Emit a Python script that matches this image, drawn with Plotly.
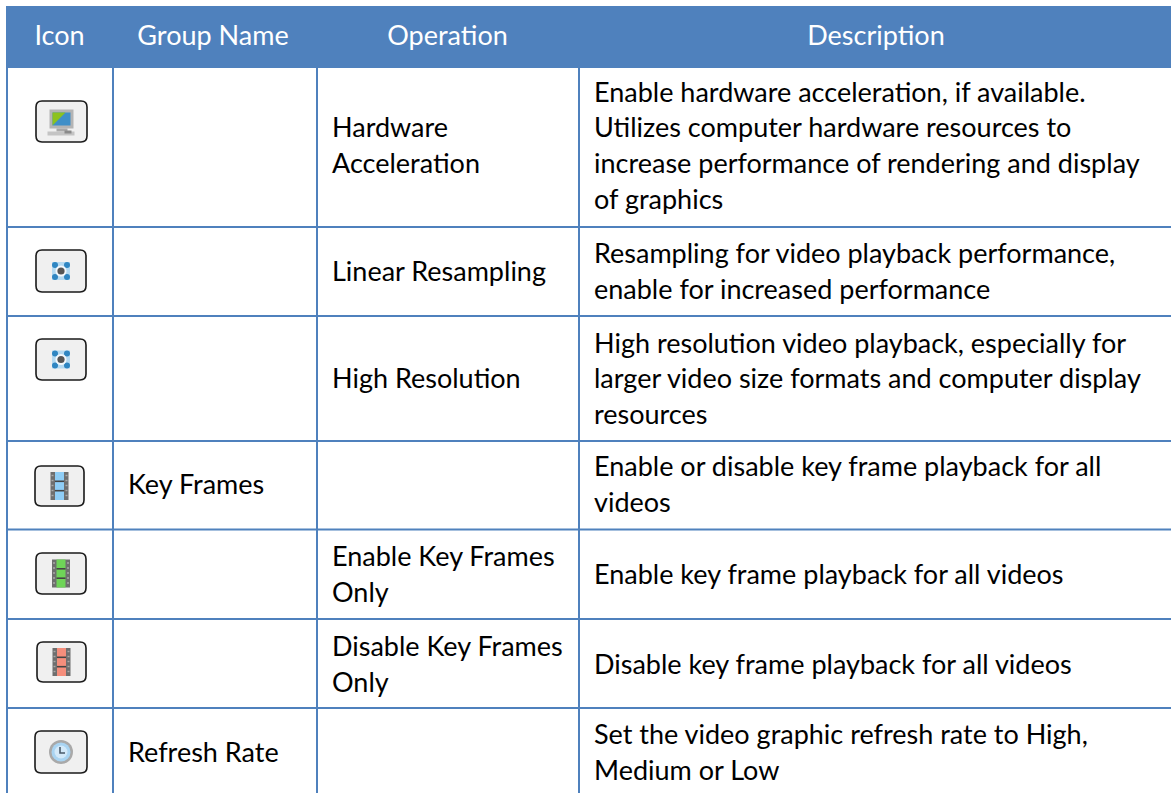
import plotly.graph_objects as go

# ---- table content ----
headers = ["Icon", "Group Name", "Operation", "Description"]
icons = ["monitor", "target", "target", "film_blue", "film_green", "film_red", "clock"]
group_names = [[], [], [], ["Key Frames"], [], [], ["Refresh Rate"]]
operations = [
    ["Hardware", "Acceleration"],
    ["Linear Resampling"],
    ["High Resolution"],
    [],
    ["Enable Key Frames", "Only"],
    ["Disable Key Frames", "Only"],
    [],
]
descriptions = [
    ["Enable hardware acceleration, if available.", "Utilizes computer hardware resources to",
     "increase performance of rendering and display", "of graphics"],
    ["Resampling for video playback performance,", "enable for increased performance"],
    ["High resolution video playback, especially for", "larger video size formats and computer display",
     "resources"],
    ["Enable or disable key frame playback for all", "videos"],
    ["Enable key frame playback for all videos"],
    ["Disable key frame playback for all videos"],
    ["Set the video graphic refresh rate to High,", "Medium or Low"],
]

# ---- layout of the page ----
W, H = 1171, 793
FONT = "Lato"
SIZE = 27
LINE_H = 35.7
BLUE = "#4f81bd"
col_edges = [7, 113, 317, 579]
row_edges = [68, 227, 316, 441, 529.5, 619, 708, 797]
header_top = 6
header_x = [59.5, 213, 447.5, 876]
header_dy = 1
text_x = [128, 332, 594]
row_dy = [1, 3, 3, 2, 3, 3.5, 3]
icon_boxes = [(36, 87, 101, 142), (36, 86, 250, 292), (36, 86, 339, 380), (35, 84, 466, 506),
              (36, 86, 553, 594), (37, 86, 642, 682), (35, 87, 731, 773)]

shapes = []


def rect(x0, x1, y0, y1, fill, line=None, width=0, opacity=1.0):
    shapes.append(dict(type="rect", x0=x0, x1=x1, y0=y0, y1=y1, fillcolor=fill, opacity=opacity,
                       line=dict(color=line or fill, width=width), layer="above"))


def circle(cx, cy, r, fill, opacity=1.0):
    shapes.append(dict(type="circle", x0=cx - r, x1=cx + r, y0=cy - r, y1=cy + r, fillcolor=fill,
                       opacity=opacity, line=dict(width=0), layer="above"))


def hline(x0, x1, y, color, width=1.0, opacity=1.0):
    shapes.append(dict(type="line", x0=x0, x1=x1, y0=y, y1=y, opacity=opacity,
                       line=dict(color=color, width=width), layer="above"))


def round_box(x0, x1, y0, y1, r=6):
    p = (f"M{x0 + r},{y0} L{x1 - r},{y0} Q{x1},{y0} {x1},{y0 + r} L{x1},{y1 - r} Q{x1},{y1} {x1 - r},{y1} "
         f"L{x0 + r},{y1} Q{x0},{y1} {x0},{y1 - r} L{x0},{y0 + r} Q{x0},{y0} {x0 + r},{y0} Z")
    shapes.append(dict(type="path", path=p, fillcolor="#f0f0f0", line=dict(color="#1a1a1a", width=1.6),
                       layer="above"))


def draw_monitor(cx, cy):
    rect(cx - 12, cx + 12, cy - 12, cy + 7, "#b4b4b4")
    rect(cx - 9, cx + 9, cy - 9, cy + 4, "#3f8fc8")
    shapes.append(dict(type="path", path=f"M{cx - 9},{cy - 9} L{cx + 4},{cy - 9} L{cx - 9},{cy + 4} Z",
                       fillcolor="#8cc21f", line=dict(width=0), layer="above"))
    rect(cx - 5, cx + 6, cy + 7, cy + 10, "#a8a8a8")
    rect(cx - 14, cx + 13, cy + 10, cy + 14, "#c4c4c4")
    rect(cx + 3, cx + 10, cy + 9, cy + 12, "#8a8a8a")


def draw_target(cx, cy):
    rect(cx - 9, cx + 9, cy - 9, cy + 9, "#b5daf2")
    for dx in (-6, 6):
        for dy in (-6, 6):
            circle(cx + dx, cy + dy, 3, "#2f86c2")
    circle(cx, cy, 5.5, "#f4f8fb")
    circle(cx, cy, 3.6, "#555555")


def draw_film(cx, cy, color):
    rect(cx - 9, cx + 9, cy - 14, cy + 14, "#6e6e6e")
    rect(cx - 4.5, cx + 4.5, cy - 14, cy + 14, color)
    for dy in (-4.7, 4.7):
        hline(cx - 4.5, cx + 4.5, cy + dy, "#444444", 1.6)
    for dy in (-10.5, -5.5, -0.5, 4.5, 9.5):
        hline(cx - 8, cx - 6, cy + dy, "#a8a8a8", 1.4)
        hline(cx + 6, cx + 8, cy + dy, "#a8a8a8", 1.4)


def draw_clock(cx, cy):
    circle(cx, cy, 12, "#a9a9a9")
    circle(cx, cy, 9.5, "#a9d4f2")
    circle(cx, cy, 6.5, "#d3e9f9")
    shapes.append(dict(type="path", path=f"M{cx - 1},{cy - 5} L{cx - 1},{cy + 1} L{cx + 4},{cy + 1}",
                       line=dict(color="#4a5a6a", width=1.6), layer="above"))


film_colors = {"film_blue": "#8fcdf5", "film_green": "#6fd458", "film_red": "#f58e7c"}

for name, (x0, x1, y0, y1) in zip(icons, icon_boxes):
    round_box(x0, x1, y0, y1)
    cx, cy = (x0 + x1) / 2, (y0 + y1) / 2
    if name == "monitor":
        draw_monitor(cx, cy)
    elif name == "target":
        draw_target(cx, cy)
    elif name == "clock":
        draw_clock(cx, cy)
    else:
        draw_film(cx, cy, film_colors[name])

# header band and grid
shapes.append(dict(type="rect", x0=6, x1=W, y0=header_top, y1=row_edges[0], fillcolor=BLUE,
                   line=dict(width=0), layer="below"))
for x in col_edges:
    shapes.append(dict(type="line", x0=x, x1=x, y0=row_edges[0], y1=H, line=dict(color=BLUE, width=2),
                       layer="below"))
for y in row_edges[1:-1]:
    shapes.append(dict(type="line", x0=col_edges[0], x1=W, y0=y, y1=y, line=dict(color=BLUE, width=2),
                       layer="below"))

# body text: every wrapped line is one point, centred in its row
body_x, body_y, body_t = [], [], []
for col, cells in enumerate([group_names, operations, descriptions]):
    for row, lines in enumerate(cells):
        mid = (row_edges[row] + row_edges[row + 1]) / 2 + row_dy[row]
        for i, line in enumerate(lines):
            body_x.append(text_x[col])
            body_y.append(mid + (i - (len(lines) - 1) / 2) * LINE_H)
            body_t.append(line)

fig = go.Figure()
fig.add_trace(go.Scatter(x=header_x, y=[(header_top + row_edges[0]) / 2 + header_dy] * len(headers), text=headers,
                         mode="text", textposition="middle center",
                         textfont=dict(family=FONT, size=SIZE, color="#ffffff"), hoverinfo="skip"))
fig.add_trace(go.Scatter(x=body_x, y=body_y, text=body_t, mode="text", textposition="middle right",
                         textfont=dict(family=FONT, size=SIZE, color="#000000"), hoverinfo="skip"))

fig.update_layout(width=W, height=H, margin=dict(l=0, r=0, t=0, b=0), showlegend=False,
                  paper_bgcolor="#ffffff", plot_bgcolor="#ffffff", shapes=shapes,
                  xaxis=dict(range=[0, W], visible=False, fixedrange=True),
                  yaxis=dict(range=[H, 0], visible=False, fixedrange=True))
page_css = ("document.body.style.margin='0';document.body.style.overflow='hidden';"
            "var s=document.createElement('style');s.textContent='text{font-variant-ligatures:none}';"
            "document.head.appendChild(s);")
fig.write_html("out.html", config=dict(displayModeBar=False), post_script=page_css)
